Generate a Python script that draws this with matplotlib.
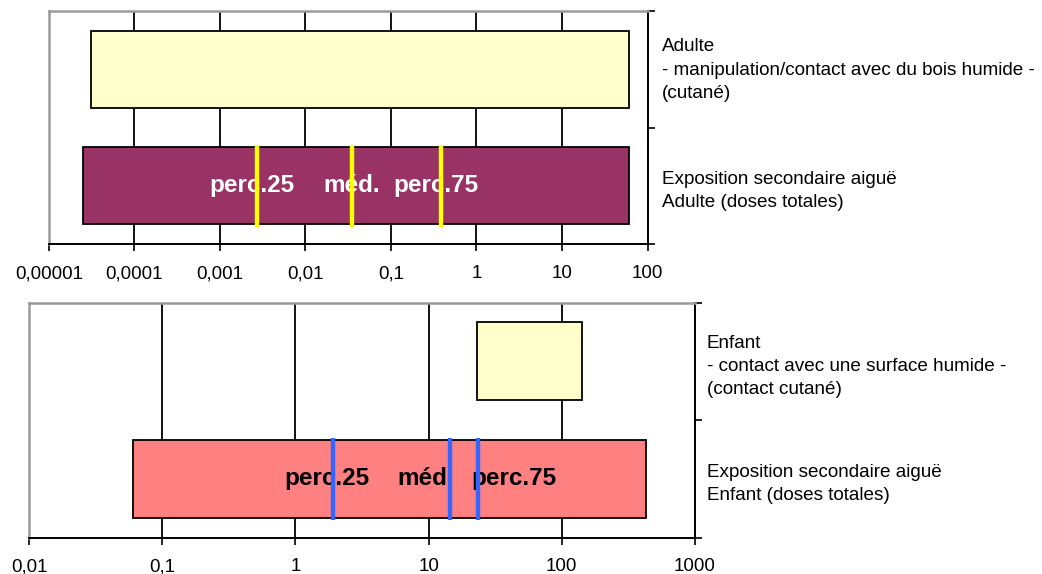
import matplotlib
matplotlib.use("Agg")
import matplotlib.pyplot as plt
import matplotlib.transforms as mtransforms
from matplotlib.ticker import FixedLocator, NullLocator

plt.rcParams['font.family'] = ['Liberation Sans', 'DejaVu Sans']

# ---------------- data ----------------
top_categories = ["Exposition secondaire aiguë\nAdulte (doses totales)",
                  "Adulte\n- manipulation/contact avec du bois humide -\n(cutané)"]
top_low = [2.5e-5, 3.1e-5]
top_high = [61, 61]
top_percentiles = [0.0027, 0.035, 0.38]
top_ticks = [1e-5, 1e-4, 1e-3, 1e-2, 1e-1, 1, 10, 100]
top_ticklabels = ["0,00001", "0,0001", "0,001", "0,01", "0,1", "1", "10", "100"]

bottom_categories = ["Exposition secondaire aiguë\nEnfant (doses totales)",
                     "Enfant\n- contact avec une surface humide -\n(contact cutané)"]
bottom_low = [0.06, 23]
bottom_high = [425, 141]
bottom_percentiles = [1.9, 14.5, 23.6]
bottom_ticks = [0.01, 0.1, 1, 10, 100, 1000]
bottom_ticklabels = ["0,01", "0,1", "1", "10", "100", "1000"]

perc_labels = ["perc.25", "méd.", "perc.75"]

# ---------------- layout ----------------
W, H = 1042, 574
fig = plt.figure(figsize=(W / 100, H / 100), dpi=100)
fig.patch.set_facecolor("white")
ax1 = fig.add_axes([49 / W, 1 - 244.3 / H, 598.5 / W, 233.6 / H])
ax2 = fig.add_axes([29 / W, 1 - 537.5 / H, 666 / W, 235 / H])

BAR_H = 0.66


def style(ax, ticks, ticklabels, cats, label_pad, top_label_shift):
    ax.set_xscale("log")
    ax.set_xlim(ticks[0], ticks[-1])
    ax.set_ylim(-0.5, 1.5)
    ax.xaxis.set_major_locator(FixedLocator(ticks))
    ax.xaxis.set_minor_locator(NullLocator())
    ax.set_xticklabels(ticklabels)
    ax.tick_params(axis="x", which="major", direction="out", length=5,
                   width=1.2, color="black", pad=10, labelsize=13.5)
    ax.grid(True, axis="x", which="major", color="black", linewidth=1.3)
    ax.set_axisbelow(True)
    ax.yaxis.tick_right()
    ax.yaxis.set_major_locator(FixedLocator([-0.5, 0.5, 1.5]))
    ax.yaxis.set_minor_locator(FixedLocator([0, 1]))
    ax.set_yticklabels(["", "", ""])
    ax.set_yticklabels(cats, minor=True)
    ax.tick_params(axis="y", which="major", direction="out", length=5,
                   width=1.2, color="black")
    ax.tick_params(axis="y", which="minor", length=0, pad=label_pad,
                   labelsize=13.6)
    for i, lbl in enumerate(ax.get_yticklabels(minor=True)):
        lbl.set_linespacing(1.5)
        lbl.set_horizontalalignment("left")
        lbl.set_multialignment("left")
        if i == 1 and top_label_shift:
            off = mtransforms.ScaledTranslation(0, top_label_shift / 100,
                                                fig.dpi_scale_trans)
            lbl.set_transform(lbl.get_transform() + off)
    ax.spines["left"].set_color("#9a9a9a")
    ax.spines["left"].set_linewidth(1.8)
    ax.spines["top"].set_color("#9a9a9a")
    ax.spines["top"].set_linewidth(1.8)
    ax.spines["bottom"].set_color("black")
    ax.spines["bottom"].set_linewidth(1.4)
    ax.spines["right"].set_color("black")
    ax.spines["right"].set_linewidth(1.4)
    ax.set_facecolor("white")


def draw(ax, low, high, colors, percentiles, pcolor, text_x, tcolor):
    widths = [h - l for l, h in zip(low, high)]
    ax.barh([0, 1], widths, left=low, height=BAR_H, color=colors,
            edgecolor="black", linewidth=1.3, zorder=2)
    ext = 0.02
    ax.vlines(percentiles, -BAR_H / 2 - ext, BAR_H / 2 + ext, colors=pcolor,
              linewidth=3.2, zorder=5)
    trans = mtransforms.blended_transform_factory(ax.transAxes, ax.transData)
    for x, t in zip(text_x, perc_labels):
        ax.text(x, 0, t, transform=trans, ha="center", va="center",
                color=tcolor, fontsize=17.5, fontweight="bold", zorder=4)


style(ax1, top_ticks, top_ticklabels, top_categories, 10.5, 4)
draw(ax1, top_low, top_high, ["#993366", "#FFFFCC"], top_percentiles,
     "#FFFF00", [0.339, 0.505, 0.646], "white")

style(ax2, bottom_ticks, bottom_ticklabels, bottom_categories, 8.5, 0)
draw(ax2, bottom_low, bottom_high, ["#FF8080", "#FFFFCC"], bottom_percentiles,
     "#3366FF", [0.447, 0.596, 0.728], "black")

fig.savefig("out.png", dpi=100, facecolor="white")
